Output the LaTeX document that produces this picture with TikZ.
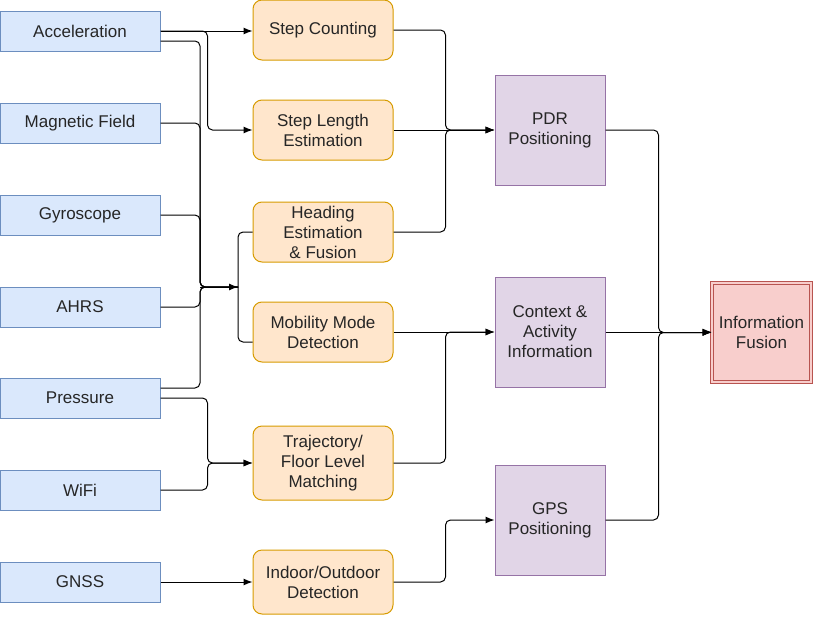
\documentclass[tikz,border=0pt]{standalone}
\usepackage{fontspec}
\setmainfont{Liberation Sans}
\usetikzlibrary{arrows.meta}

\definecolor{senfill}{HTML}{DAE8FC}
\definecolor{sendraw}{HTML}{6C8EBF}
\definecolor{procfill}{HTML}{FFE6CC}
\definecolor{procdraw}{HTML}{D79B00}
\definecolor{outfill}{HTML}{E1D5E7}
\definecolor{outdraw}{HTML}{9673A6}
\definecolor{fusfill}{HTML}{F8CECC}
\definecolor{fusdraw}{HTML}{B85450}

\begin{document}
\begin{tikzpicture}[x=1pt, y=-1pt, >={Latex[length=9pt,width=7pt]}, line width=1pt,
    every node/.style={font=\fontsize{17}{20}\selectfont, text=black!85, align=center, line width=1pt},
    sensor/.style={draw=sendraw, fill=senfill, minimum width=160, minimum height=40},
    proc/.style={draw=procdraw, fill=procfill, rounded corners=9, minimum width=140, minimum height=60},
    result/.style={draw=outdraw, fill=outfill, minimum width=110, minimum height=110},
    fusion/.style={draw=fusdraw, double=fusfill, double distance=2pt, fill=fusfill, minimum size=99},
    wire/.style={rounded corners=5}]
        \useasboundingbox (0,0) rectangle (814,616);

        % sensors
        \node[sensor] (acc)  at (80,31)  {Acceleration};
        \node[sensor] (mag)  at (80,123) {Magnetic Field};
        \node[sensor] (gyr)  at (80,215) {Gyroscope};
        \node[sensor] (ahrs) at (80,307) {AHRS};
        \node[sensor] (pres) at (80,398) {Pressure};
        \node[sensor] (wifi) at (80,490) {WiFi};
        \node[sensor] (gnss) at (80,582) {GNSS};

        % processing
        \node[proc] (stc) at (323,30)  {Step Counting};
        \node[proc] (stl) at (323,130) {Step Length\\Estimation};
        \node[proc] (hdg) at (323,232) {Heading\\Estimation\\\& Fusion};
        \node[proc] (mob) at (323,332) {Mobility Mode\\Detection};
        \node[proc, minimum height=74] (trj) at (323,463) {Trajectory/\\Floor Level\\Matching};
        \node[proc, minimum height=64] (ind) at (323,582) {Indoor/Outdoor\\Detection};

        % results
        \node[result] (pdr) at (550,130) {PDR\\Positioning};
        \node[result] (ctx) at (550,332) {Context \&\\Activity\\Information};
        \node[result] (gps) at (550,520) {GPS\\Positioning};

        \node[fusion] (fus) at (761.5,332.5) {Information\\Fusion};

        \coordinate (j1) at (200,287);
        \coordinate (j2) at (238,287);

        % sensors to processing
        \draw[->] (acc.east) -- (acc.east -| stc.west);
        \draw[->, wire] (acc.east) -- ++(47,0) |- (stl.west);
        \draw[wire] ([yshift=-10pt]acc.east) -| (j1) -- (j2);
        \draw[wire] (mag.east) -| (j1) -- (j2);
        \draw[wire] (gyr.east) -| (j1) -- (j2);
        \draw[wire] (ahrs.east) -| (j1) -- (j2);
        \draw[wire] ([yshift=10pt]pres.east) -| (j1) -- (j2);
        \draw[->] (j1) -- (j2);
        \draw[wire] (hdg.west) -| (j2) |- ([yshift=-10pt]mob.west);
        \draw[->, wire] (pres.east) -- ++(47,0) |- (trj.west);
        \draw[->, wire] (wifi.east) -- ++(47,0) |- (trj.west);
        \draw[->] (gnss.east) -- (gnss.east -| ind.west);

        % processing to results
        \draw[->, wire] (stc.east) -- ++(52,0) |- (pdr.west);
        \draw[->] (stl.east) -- (pdr.west);
        \draw[->, wire] (hdg.east) -- ++(52,0) |- (pdr.west);
        \draw[->] (mob.east) -- (ctx.west);
        \draw[->, wire] (trj.east) -- ++(52,0) |- (ctx.west);
        \draw[->, wire] (ind.east) -- ++(52,0) |- (gps.west);

        % results to fusion
        \draw[->, wire] (pdr.east) -- ++(53,0) |- (fus.west);
        \draw[->] (ctx.east) -- (ctx.east -| fus.west);
        \draw[->, wire] (gps.east) -- ++(53,0) |- (fus.west);
    \end{tikzpicture}
\end{document}
